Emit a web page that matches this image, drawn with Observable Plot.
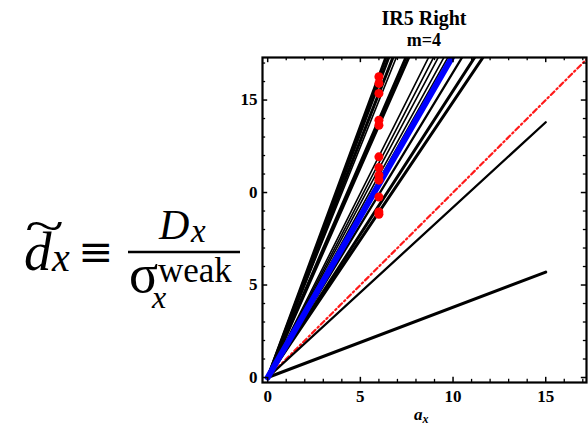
<!DOCTYPE html>
<html>
<head>
<meta charset="utf-8">
<script src="https://cdn.jsdelivr.net/npm/d3@7"></script>
<script src="https://cdn.jsdelivr.net/npm/@observablehq/plot@0.6"></script>
<style>
  html, body { margin: 0; padding: 0; background: #fff; }
  #chart { position: relative; width: 588px; height: 429px; }
</style>
</head>
<body>
<div id="chart"></div>
<script>
// ---- data ----
const title = "IR5 Right";
const subtitle = "m=4";
// black lines from origin: value of the line at x = 15 (clipped by the frame)
const thickLineEndY = [40.7, 39.75, 38.4, 34.8, 34.1, 23.25, 22.35, 5.7];
const thinLineEndY = [37.4, 29.9, 29.0, 28.2, 27.3, 26.7];
const mediumLineEndY = [24.75, 13.8];
const blueLineEndY = [26.1];
const lineStartX = 0, lineEndX = 15;
const diagonal = [0, 17.3];           // red dash-dot y = x
const dotX = 6;
const dotY = [16.26, 15.9, 15.36, 13.91, 13.64, 11.93, 11.35, 10.94, 10.67, 9.76, 8.95, 8.82];
const majorTicks = [0, 5, 10, 15];
const minorTicks = [1, 2, 3, 4, 6, 7, 8, 9, 11, 12, 13, 14, 16, 17];
const xTickLabels = ["0", "5", "10", "15"];
const yTickLabels = ["0", "5", "0", "15"];

const toSeg = (ends) => ends.flatMap((e, i) => [
  {id: i, x: lineStartX, y: 0}, {id: i, x: lineEndX, y: e}
]);
const diag = diagonal.map(v => ({x: v, y: v}));
const dots = dotY.map(y => ({x: dotX, y}));

const xDom = [-0.28, 17.2], yDom = [-0.27, 17.3];
const serif = "'Liberation Serif', 'Times New Roman', serif";

const tickMarks = (ticks, len, w) => [
  Plot.ruleX(ticks, {x: d => d, y1: yDom[0], y2: yDom[0] + len, stroke: "black", strokeWidth: w}),
  Plot.ruleX(ticks.filter(t => t <= xDom[1]), {x: d => d, y1: yDom[1], y2: yDom[1] - len, stroke: "black", strokeWidth: w}),
  Plot.ruleY(ticks, {y: d => d, x1: xDom[0], x2: xDom[0] + len, stroke: "black", strokeWidth: w}),
  Plot.ruleY(ticks, {y: d => d, x1: xDom[1], x2: xDom[1] - len, stroke: "black", strokeWidth: w})
];

const plot = Plot.plot({
  width: 588, height: 429,
  marginLeft: 262, marginTop: 57, marginRight: 2, marginBottom: 47,
  x: {domain: xDom},
  y: {domain: yDom},
  style: {background: "transparent", fontFamily: serif, color: "black"},
  marks: [
    Plot.line(diag, {x: "x", y: "y", stroke: "#ff1a1a", strokeWidth: 2.2, strokeDasharray: "5,3,1.5,3", clip: true}),
    Plot.line(toSeg(thinLineEndY), {x: "x", y: "y", z: "id", stroke: "black", strokeWidth: 1.6, clip: true}),
    Plot.line(toSeg(mediumLineEndY), {x: "x", y: "y", z: "id", stroke: "black", strokeWidth: 2.3, clip: true}),
    Plot.line(toSeg(thickLineEndY), {x: "x", y: "y", z: "id", stroke: "black", strokeWidth: 3, clip: true}),
    Plot.line(toSeg(blueLineEndY), {x: "x", y: "y", z: "id", stroke: "#0000ff", strokeWidth: 6, clip: true}),
    Plot.dot(dots, {x: "x", y: "y", r: 4.5, fill: "#ff0000", stroke: "none"}),
    ...tickMarks(majorTicks, 0.28, 1.5),
    ...tickMarks(minorTicks, 0.17, 1.3),
    Plot.frame({stroke: "black", strokeWidth: 2.2}),
    Plot.axisX(majorTicks, {tickSize: 0, tickPadding: 7, fontSize: 17, fontWeight: "bold",
      tickFormat: (d, i) => xTickLabels[i], label: null}),
    Plot.axisY(majorTicks, {tickSize: 0, tickPadding: 5, fontSize: 17, fontWeight: "bold",
      tickFormat: (d, i) => yTickLabels[i], label: null})
  ]
});
document.getElementById("chart").appendChild(plot);

// ---- titles, axis label and formula as text ----
const svg = d3.select(plot);
const g = svg.append("g").attr("font-family", serif).attr("fill", "black").attr("text-anchor", "start");
g.append("text").attr("x", 424).attr("y", 25).attr("text-anchor", "middle")
  .attr("font-size", 20).attr("font-weight", "bold").text(title);
g.append("text").attr("x", 424).attr("y", 46).attr("text-anchor", "middle")
  .attr("font-size", 18).attr("font-weight", "bold").text(subtitle);

const ax = g.append("text").attr("x", 414).attr("y", 420).attr("font-size", 17)
  .attr("font-weight", "bold").attr("font-style", "italic");
ax.append("tspan").text("a");
ax.append("tspan").attr("font-size", 12).attr("dy", 3).text("x");

// formula  d̃_x ≡ D_x / σ_x^weak
const f = g.append("g");
f.append("text").attr("x", 24).attr("y", 270).attr("font-size", 55).attr("font-style", "italic").text("d");
f.append("text").attr("transform", "translate(25,242) scale(1.5,1)").attr("font-size", 48).text("~");
f.append("text").attr("x", 52).attr("y", 271).attr("font-size", 40).attr("font-style", "italic").text("x");
f.append("text").attr("x", 78).attr("y", 266).attr("font-size", 42)
  .attr("font-family", "'DejaVu Serif', serif").text("≡");
f.append("text").attr("x", 159).attr("y", 239).attr("font-size", 42).attr("font-style", "italic").text("D");
f.append("text").attr("x", 191).attr("y", 242).attr("font-size", 33).attr("font-style", "italic").text("x");
f.append("line").attr("x1", 128).attr("x2", 240).attr("y1", 252).attr("y2", 252)
  .attr("stroke", "black").attr("stroke-width", 2.5);
f.append("text").attr("x", 129).attr("y", 292).attr("font-size", 54).text("σ");
f.append("text").attr("x", 158).attr("y", 282).attr("font-size", 35).text("weak");
f.append("text").attr("x", 152).attr("y", 308).attr("font-size", 32).attr("font-style", "italic").text("x");
</script>
</body>
</html>
